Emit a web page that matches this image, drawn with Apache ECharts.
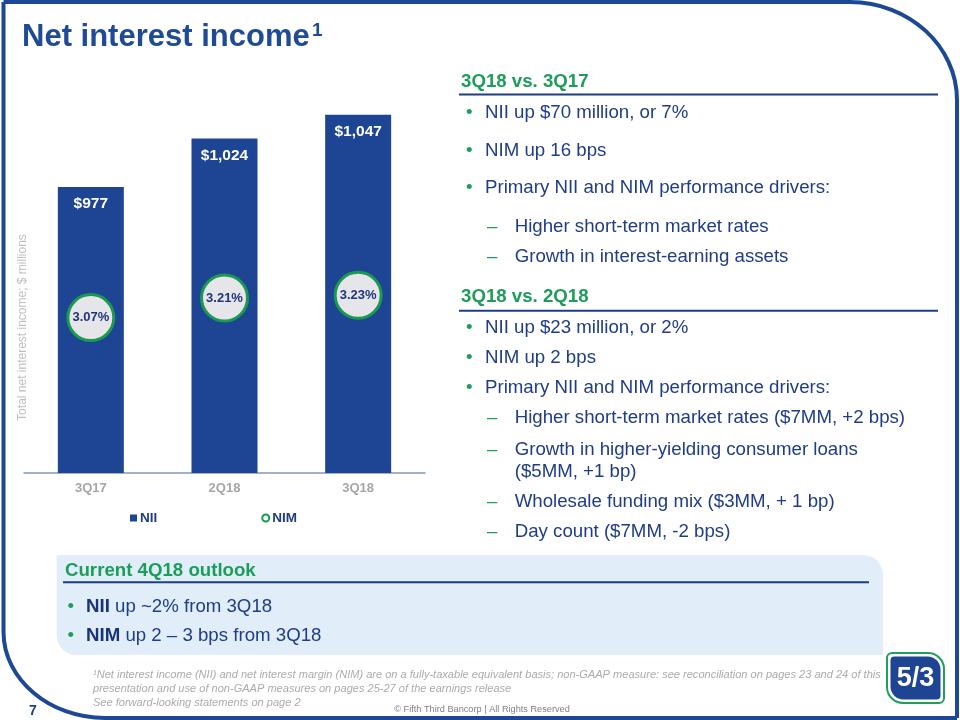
<!DOCTYPE html>
<html>
<head>
<meta charset="utf-8">
<script src="https://cdn.jsdelivr.net/npm/echarts@6/dist/echarts.min.js"></script>
<style>
html,body{margin:0;padding:0;background:#fff;}
#chart{width:960px;height:720px;}
</style>
</head>
<body>
<div id="chart"></div>
<script>
// ---- data ----
const categories = ['3Q17', '2Q18', '3Q18'];
const niiValues = [977, 1024, 1047];
const nimValues = [3.07, 3.21, 3.23];
const seriesNames = ['NII', 'NIM'];
const titleText = 'Net interest income';
const yAxisTitle = 'Total net interest income; $ millions';

const section1Heading = '3Q18 vs. 3Q17';
const section1Bullets = ['NII up $70 million, or 7%', 'NIM up 16 bps', 'Primary NII and NIM performance drivers:'];
const section1Subs = ['Higher short-term market rates', 'Growth in interest-earning assets'];
const section2Heading = '3Q18 vs. 2Q18';
const section2Bullets = ['NII up $23 million, or 2%', 'NIM up 2 bps', 'Primary NII and NIM performance drivers:'];
const section2Subs = ['Higher short-term market rates ($7MM, +2 bps)', 'Growth in higher-yielding consumer loans', '($5MM, +1 bp)', 'Wholesale funding mix ($3MM, + 1 bp)', 'Day count ($7MM, -2 bps)'];
const outlookHeading = 'Current 4Q18 outlook';
const outlookBold = ['NII', 'NIM'];
const outlookRest = [' up ~2% from 3Q18', ' up 2 \u2013 3 bps from 3Q18'];
const footnotes = [
  '\u00b9Net interest income (NII) and net interest margin (NIM) are on a fully-taxable equivalent basis; non-GAAP measure: see reconciliation on pages 23 and 24 of this',
  'presentation and use of non-GAAP measures on pages 25-27 of the earnings release',
  'See forward-looking statements on page 2'
];
const copyrightText = '\u00a9 Fifth Third Bancorp | All Rights Reserved';
const pageNumber = '7';

// ---- styles ----
const FF = '"Liberation Sans", Arial, Helvetica, sans-serif';
const NAVY = '#1f3c88';
const TITLE = '#1f4a98';
const BAR = '#1e4594';
const GREEN = '#1c9e5a';
const FRAME = '#1c4896';
const FS = 18.67;

function txt(x, y, text, opt) {
  opt = opt || {};
  return {
    type: 'text', z: 10,
    style: {
      x: x, y: y, text: text,
      font: (opt.italic ? 'italic ' : '') + (opt.bold ? 'bold ' : '') + (opt.size || FS) + 'px ' + FF,
      fill: opt.color || NAVY,
      align: opt.align || 'left', textAlign: opt.align || 'left',
      verticalAlign: 'middle', textVerticalAlign: 'middle'
    }
  };
}
function seg(x1, y1, x2, y2, color, w, z) {
  return { type: 'line', z: z || 5, shape: { x1: x1, y1: y1, x2: x2, y2: y2 }, style: { stroke: color, lineWidth: w } };
}

const g = [];
// frame
g.push(seg(3.5, 2, 850, 2, FRAME, 4, 1));
g.push({ type: 'bezierCurve', z: 1, shape: { x1: 850, y1: 2, cpx1: 909.1, cpy1: 2, cpx2: 957, cpy2: 46.4, x2: 957, y2: 100 }, style: { fill: null, stroke: FRAME, lineWidth: 4 } });
g.push(seg(957, 100, 957, 718, FRAME, 4, 1));
g.push(seg(957, 718, 105, 718, FRAME, 4, 1));
g.push({ type: 'bezierCurve', z: 1, shape: { x1: 105, y1: 718, cpx1: 49.5, cpy1: 718, cpx2: 3.5, cpy2: 679.3, x2: 3.5, y2: 632 }, style: { fill: null, stroke: FRAME, lineWidth: 4 } });
g.push(seg(3.5, 632, 3.5, 2, FRAME, 4, 1));

// title
g.push(txt(22, 37, titleText, { bold: true, size: 31, color: TITLE }));
g.push(txt(312, 31, '1', { bold: true, size: 19, color: TITLE }));
// y axis name
g.push({
  type: 'text', z: 10, x: 23, y: 327.5, rotation: Math.PI / 2,
  style: { x: 0, y: 0, text: yAxisTitle, font: '12px ' + FF, fill: '#bfbfbf',
    align: 'center', textAlign: 'center', verticalAlign: 'middle', textVerticalAlign: 'middle' }
});

// right panel
function heading(y, text, ruleY) {
  g.push(txt(461, y, text, { bold: true, color: GREEN }));
  g.push(seg(459, ruleY, 938, ruleY, NAVY, 2));
}
function bullet(y, text) {
  g.push(txt(466, y, '\u2022', { color: GREEN }));
  g.push(txt(485, y, text));
}
function sub(y, text, noDash) {
  if (!noDash) g.push(txt(487, y, '\u2013', { color: GREEN }));
  g.push(txt(514.7, y, text));
}
heading(81.7, section1Heading, 94.5);
const s1y = [113.3, 150.7, 188.3];
section1Bullets.forEach((t, i) => bullet(s1y[i], t));
const s1sy = [226.7, 256.7];
section1Subs.forEach((t, i) => sub(s1sy[i], t));
heading(296.5, section2Heading, 310.7);
const s2y = [328.3, 358.3, 388.3];
section2Bullets.forEach((t, i) => bullet(s2y[i], t));
const s2sy = [418.3, 450, 472.3, 501.7, 531.7];
section2Subs.forEach((t, i) => sub(s2sy[i], t, i === 2));

// outlook box
g.push({ type: 'rect', z: 2, shape: { x: 56.7, y: 555, width: 826.3, height: 100, r: [0, 20, 0, 20] }, style: { fill: '#e1eef9' } });
g.push(txt(65, 571, outlookHeading, { bold: true, color: GREEN }));
g.push(seg(63, 582.3, 869, 582.3, NAVY, 2));
const oy = [606.7, 635.7];
outlookBold.forEach((b, i) => {
  g.push(txt(67.5, oy[i], '\u2022', { color: GREEN }));
  g.push({
    type: 'text', z: 10,
    style: {
      x: 86, y: oy[i], text: '{b|' + b + '}{r|' + outlookRest[i] + '}',
      font: FS + 'px ' + FF, fill: NAVY,
      align: 'left', textAlign: 'left', verticalAlign: 'middle', textVerticalAlign: 'middle',
      rich: {
        b: { fontSize: FS, fontFamily: FF, fontWeight: 'bold', fill: '#1a3278' },
        r: { fontSize: FS, fontFamily: FF, fontWeight: 'normal', fill: NAVY }
      }
    }
  });
});

// footnotes
const fy = [675, 689, 703];
footnotes.forEach((t, i) => g.push(txt(93, fy[i], t, { italic: true, size: 11.05, color: '#ababab' })));
g.push(txt(482, 709, copyrightText, { size: 9.2, color: '#7f7f7f', align: 'center' }));
g.push(txt(33, 711, pageNumber, { bold: true, size: 14, color: NAVY, align: 'center' }));

// logo
g.push({ type: 'rect', z: 5, shape: { x: 887, y: 653, width: 57, height: 50, r: [5, 16, 5, 16] }, style: { fill: '#fff', stroke: '#1f9e5c', lineWidth: 2 } });
g.push({ type: 'rect', z: 6, shape: { x: 890.5, y: 656.5, width: 50, height: 43, r: [4, 13, 4, 13] }, style: { fill: '#1e4594' } });
g.push(txt(915.5, 678.5, '5/3', { bold: true, size: 27, color: '#fff', align: 'center' }));

const option = {
  backgroundColor: '#ffffff',
  animation: false,
  textStyle: { fontFamily: FF },
  grid: { left: 24, right: 535, top: 60, bottom: 247, containLabel: false },
  legend: {
    left: 130, top: 511, padding: 0, itemGap: 104, itemWidth: 7, itemHeight: 7,
    textStyle: { fontSize: 13.5, fontWeight: 'bold', color: NAVY, fontFamily: FF, padding: [0, 0, 0, -2] },
    data: [
      { name: seriesNames[0], icon: 'rect', itemStyle: { color: BAR } },
      { name: seriesNames[1], icon: 'circle', itemStyle: { color: '#ffffff', borderColor: '#1a9a50', borderWidth: 2 } }
    ]
  },
  xAxis: {
    type: 'category', data: categories,
    axisLine: { lineStyle: { color: '#8497b8', width: 1.5 } },
    axisTick: { show: false },
    axisLabel: { color: '#a6a6a6', fontWeight: 'bold', fontSize: 13, margin: 9, fontFamily: FF }
  },
  yAxis: [
    { type: 'value', min: 700, max: 1100, show: false, splitLine: { show: false } },
    { type: 'value', min: 1.96, max: 4.91, show: false, splitLine: { show: false } }
  ],
  series: [
    {
      name: seriesNames[0], type: 'bar', data: niiValues, barWidth: 66,
      itemStyle: { color: BAR },
      label: {
        show: true, position: 'insideTop', distance: 9,
        formatter: p => '$' + p.value.toLocaleString('en-US'),
        color: '#fff', fontWeight: 'bold', fontSize: 15.5, fontFamily: FF
      }
    },
    {
      name: seriesNames[1], type: 'scatter', yAxisIndex: 1, data: nimValues,
      symbol: 'circle', symbolSize: 46, z: 5,
      itemStyle: { color: '#e6e6ea', borderColor: '#1a9a50', borderWidth: 3, opacity: 1 },
      label: {
        show: true, position: 'inside',
        formatter: p => p.value.toFixed(2) + '%',
        color: '#1f3577', fontWeight: 'bold', fontSize: 13, fontFamily: FF
      }
    }
  ],
  graphic: { elements: g }
};

const chart = echarts.init(document.getElementById('chart'), null, { renderer: 'canvas' });
chart.setOption(option);
</script>
</body>
</html>
